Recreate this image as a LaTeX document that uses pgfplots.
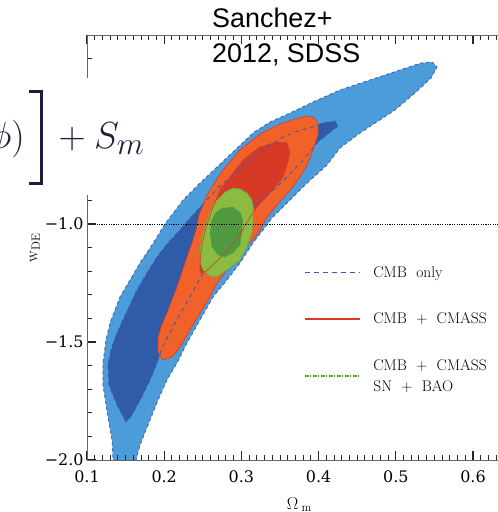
\documentclass[border=0pt]{standalone}
\usepackage{fontspec}
\usepackage{pgfplots}
\usepackage{pgfplotstable}
\pgfplotsset{compat=1.18}
\newfontfamily\titlefont{Liberation Sans}
\newfontfamily\tickfont{DejaVu Serif}

\definecolor{cmbouter}{HTML}{4B9CD8}
\definecolor{cmbinner}{HTML}{2F5BA9}
\definecolor{cmbline}{HTML}{3A5CAB}
\definecolor{cmassouter}{HTML}{F0622A}
\definecolor{cmassinner}{HTML}{D63A27}
\definecolor{cmassline}{HTML}{D83A2A}
\definecolor{allouter}{HTML}{8CBB42}
\definecolor{allinner}{HTML}{4F9A41}
\definecolor{allline}{HTML}{5FA83A}
\definecolor{eqink}{HTML}{1E1E3C}

% CMB only, 95%
\pgfplotstableread{
x y
0.1298 -2.0636
0.1337 -2.0000
0.1324 -1.9153
0.1272 -1.8178
0.1207 -1.6822
0.1207 -1.5890
0.1246 -1.4915
0.1298 -1.4195
0.1427 -1.3093
0.1557 -1.2373
0.1686 -1.1653
0.1842 -1.0890
0.2010 -1.0000
0.2244 -0.8983
0.2464 -0.8263
0.2684 -0.7585
0.2917 -0.6864
0.3150 -0.6144
0.3370 -0.5678
0.3630 -0.5297
0.3927 -0.4831
0.4277 -0.4322
0.4666 -0.3898
0.5054 -0.3475
0.5326 -0.3178
0.5469 -0.3136
0.5534 -0.3347
0.5456 -0.3814
0.5249 -0.4449
0.4990 -0.5169
0.4536 -0.6144
0.4277 -0.6780
0.4109 -0.7500
0.3824 -0.8347
0.3565 -0.9195
0.3396 -0.9746
0.3280 -1.0254
0.3150 -1.0805
0.2982 -1.1653
0.2813 -1.2373
0.2632 -1.3093
0.2464 -1.4068
0.2295 -1.5042
0.2166 -1.5890
0.2036 -1.6610
0.1920 -1.7458
0.1790 -1.8517
0.1687 -1.9364
0.1635 -2.0000
0.1596 -2.0636
}\cmbtwo

% CMB only, 68%
\pgfplotstableread{
x y
0.1505 -1.8390
0.1389 -1.7669
0.1285 -1.6822
0.1272 -1.5975
0.1311 -1.5339
0.1389 -1.4619
0.1466 -1.4068
0.1557 -1.3432
0.1648 -1.2797
0.1777 -1.2076
0.1907 -1.1398
0.2049 -1.0805
0.2205 -1.0254
0.2360 -0.9661
0.2528 -0.9068
0.2697 -0.8475
0.2917 -0.7839
0.3111 -0.7288
0.3319 -0.6780
0.3539 -0.6314
0.3733 -0.6059
0.3927 -0.5890
0.4057 -0.5720
0.4212 -0.5636
0.4251 -0.5847
0.4122 -0.6186
0.3992 -0.6525
0.3798 -0.7288
0.3591 -0.8008
0.3409 -0.8559
0.3202 -0.9110
0.3047 -0.9746
0.2891 -1.0339
0.2697 -1.1186
0.2503 -1.2076
0.2334 -1.3093
0.2140 -1.4195
0.1972 -1.5254
0.1907 -1.5890
0.1816 -1.6610
0.1687 -1.7458
0.1583 -1.8093
}\cmbone

% CMB + CMASS, 95%
\pgfplotstableread{
x y
0.1984 -1.5763
0.1920 -1.5424
0.1920 -1.4831
0.1959 -1.4364
0.2036 -1.3771
0.2101 -1.3220
0.2166 -1.2669
0.2231 -1.2034
0.2295 -1.1398
0.2360 -1.0805
0.2412 -1.0254
0.2451 -0.9619
0.2554 -0.8771
0.2658 -0.8220
0.2762 -0.7712
0.2982 -0.6864
0.3241 -0.6186
0.3500 -0.5763
0.3694 -0.5551
0.3850 -0.5424
0.3953 -0.5508
0.3992 -0.5805
0.3992 -0.6229
0.3927 -0.6864
0.3850 -0.7500
0.3759 -0.8008
0.3655 -0.8475
0.3539 -0.8898
0.3332 -0.9703
0.3241 -1.0254
0.3150 -1.0678
0.3073 -1.0890
0.2943 -1.1398
0.2813 -1.1949
0.2684 -1.2500
0.2593 -1.3093
0.2464 -1.3771
0.2334 -1.4492
0.2205 -1.5212
0.2101 -1.5636
}\cmasstwo

% CMB + CMASS, 68%
\pgfplotstableread{
x y
0.3461 -0.6525
0.3591 -0.6568
0.3630 -0.6992
0.3591 -0.7500
0.3539 -0.8008
0.3370 -0.8686
0.3202 -0.9280
0.3111 -0.9703
0.2982 -1.0466
0.2826 -1.1102
0.2658 -1.1653
0.2528 -1.2034
0.2464 -1.2076
0.2464 -1.1610
0.2490 -1.0890
0.2541 -1.0169
0.2619 -0.9407
0.2723 -0.8559
0.2852 -0.8008
0.3021 -0.7288
0.3241 -0.6737
}\cmassone

% CMB + CMASS + SN + BAO, 95%
\pgfplotstableread{
x y
0.2891 -0.8475
0.2982 -0.8517
0.3073 -0.8686
0.3137 -0.8983
0.3163 -0.9407
0.3150 -0.9915
0.3137 -1.0381
0.3073 -1.0975
0.2982 -1.1525
0.2852 -1.1864
0.2684 -1.2246
0.2593 -1.2203
0.2503 -1.1949
0.2464 -1.1610
0.2464 -1.1017
0.2503 -1.0381
0.2554 -0.9831
0.2619 -0.9280
0.2684 -0.8983
0.2788 -0.8644
}\alltwo

% CMB + CMASS + SN + BAO, 68%
\pgfplotstableread{
x y
0.2891 -0.9280
0.2982 -0.9492
0.3021 -0.9831
0.3008 -1.0339
0.2982 -1.0890
0.2891 -1.1229
0.2788 -1.1398
0.2697 -1.1314
0.2619 -1.0975
0.2593 -1.0466
0.2606 -0.9915
0.2658 -0.9534
0.2749 -0.9322
}\allone

\begin{document}
\begin{tikzpicture}
\useasboundingbox (0,0) rectangle (498bp,512bp);
\begin{axis}[
  at={(87bp,52bp)}, anchor=south west,
  scale only axis, width=424.6bp, height=424.8bp,
  xmin=0.1, xmax=0.65, ymin=-2, ymax=-0.2,
  axis on top,
  xtick={0.1,0.2,0.3,0.4,0.5,0.6},
  xticklabels={0.1,0.2,0.3,0.4,0.5,0.6},
  minor xtick={0.11,0.12,...,0.65},
  ytick={-2,-1.5,-1,-0.5},
  yticklabels={−2.0,−1.5,−1.0,−0.5},
  minor ytick={-1.9,-1.8,...,-0.2},
  tick align=inside,
  major tick length=9bp, minor tick length=4.5bp,
  every major tick/.style={black!85, line width=1.2bp},
  every minor tick/.style={black!85, line width=1bp},
  axis line style={black!60, line width=0.8bp},
  tick label style={font=\tickfont\fontsize{16}{18}\selectfont},
  xticklabel style={yshift=-7bp},
  xlabel={$\Omega_{\;\mathrm{m}}$},
  ylabel={$\mathrm{w}_{\mathrm{DE}}$},
  xlabel style={font=\fontsize{17.28}{20}\selectfont, yshift=-8bp},
  ylabel style={font=\fontsize{17.28}{20}\selectfont, yshift=-2bp},
  legend style={draw=none, fill=none, at={(axis cs:0.377,-1.163)}, anchor=north west,
    font=\fontsize{15.5}{21}\selectfont, row sep=30bp,
    cells={anchor=west, align=left},
    /tikz/every odd column/.append style={column sep=11bp}},
  legend image code/.code={\draw[#1] (0bp,0bp) -- (55bp,0bp);},
]
% filled regions
\addplot[fill=cmbouter, draw=cmbline, line width=0.8bp, dash pattern=on 3bp off 3bp, forget plot] table {\cmbtwo} -- cycle;
\addplot[fill=cmbinner, draw=none, forget plot] table {\cmbone} -- cycle;
\addplot[fill=cmassouter, draw=cmassline, line width=0.6bp, forget plot] table {\cmasstwo} -- cycle;
\addplot[fill=cmassinner, draw=none, forget plot] table {\cmassone} -- cycle;
\addplot[draw=cmbline, line width=0.9bp, dash pattern=on 4bp off 4bp, forget plot] table {\cmbone} -- cycle;
\addplot[fill=allouter, draw=allline, line width=0.5bp, forget plot] table {\alltwo} -- cycle;
\addplot[fill=allinner, draw=none, forget plot] table {\allone} -- cycle;
\addplot[draw=cmassline, line width=0.6bp, forget plot] table {\cmassone} -- cycle;
% w = -1
\addplot[black, line width=0.9bp, dash pattern=on 1.2bp off 1.2bp, forget plot] coordinates {(0.1,-1) (0.65,-1)};
% legend
\addlegendimage{draw=cmbline, line width=1.1bp, dash pattern=on 5bp off 4bp}
\addlegendentry{CMB~~only}
\addlegendimage{draw=cmassline, line width=1.4bp}
\addlegendentry{CMB~~+~~CMASS}
\addlegendimage{draw=allline, line width=1.2bp, dash pattern=on 4bp off 1.5bp on 1bp off 1.5bp}
\addlegendentry{CMB~~+~~CMASS\\SN~~+~~BAO}
\end{axis}
% pasted equation fragment over the top-left corner
\fill[white] (0,317bp) rectangle (140bp,434bp);
\node[anchor=base east, inner sep=0pt, text=eqink, scale=1.52] at (25bp,363bp) {\fontsize{24.88}{26}\selectfont$\phi)$};
\draw[eqink, line width=3bp] (29bp,420bp) -- (41bp,420bp) -- (41bp,328bp) -- (29bp,328bp);
\node[anchor=base west, inner sep=0pt, text=eqink, scale=1.52] at (50bp,363bp) {\fontsize{24.88}{26}\selectfont${}+S_m$};
% title
\node[anchor=base west, inner sep=0pt, font=\titlefont\fontsize{27}{30}\selectfont] at (212bp,484bp) {Sanchez+};
\node[anchor=base west, inner sep=0pt, font=\titlefont\fontsize{27}{30}\selectfont] at (212bp,449bp) {2012, SDSS};
\end{tikzpicture}
\end{document}
